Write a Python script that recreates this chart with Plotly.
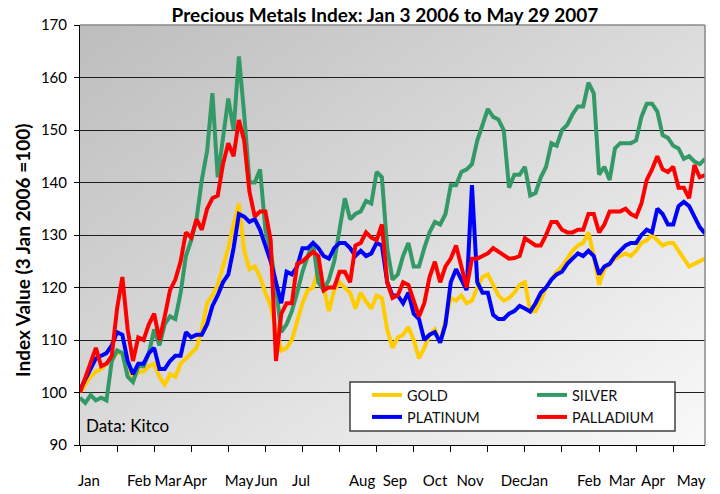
import base64
import plotly.graph_objects as go

# trading-day index (Jan 3 2006 = 0 ... May 29 2007 = 354), sampled every 3 days
day = list(range(0, 355, 3))

gold = [100, 101.5, 103, 104, 104.5, 105.5, 106.5, 107.5, 107.5, 105.5,
        102.5, 104, 104, 105, 105.5, 103, 101.5, 103.5, 103, 105.5,
        106.5, 107.5, 108.5, 112, 117, 118.5, 120.5, 124, 127.5, 132,
        136, 127, 123.5, 124, 122, 119, 116.5, 112, 108, 108.5,
        110, 113.5, 117, 119.5, 120, 123.5, 120, 115.5, 119.5, 121,
        120, 119, 116, 119, 117.3, 116, 118.5, 118, 112, 108.5,
        110.5, 111, 112.5, 110, 106.5, 108.5, 111, 112, 109.5, 114,
        118, 117.5, 118.5, 117, 117.5, 120, 122, 122.5, 120.5, 118.5,
        117.5, 118, 119, 120.5, 121, 115.5, 115.5, 117.5, 120, 121.5,
        123, 124, 125.5, 127, 128, 128.5, 130.5, 126, 120.5, 123.5,
        124.5, 125.5, 126, 126.5, 126, 127, 128.5, 129, 130, 129,
        128, 128.5, 128.5, 127, 125.5, 124, 124.5, 125, 125.5]

silver = [99, 98, 99.5, 98.5, 99, 98.5, 106, 108, 107.5, 103,
          102, 105, 105, 107.5, 112, 109, 113, 114.5, 114, 119,
          126, 129, 133, 140.5, 146, 157, 141, 149, 156, 150,
          164, 153, 140, 140, 142.5, 131, 127, 120, 111.5, 113,
          115.5, 119, 123, 126, 128.5, 121, 119.5, 121.5, 125, 131,
          137, 133, 134, 134.5, 136.5, 136, 142, 141, 127.5, 121.5,
          122.5, 126, 128.5, 124, 124, 127.5, 130.5, 132.5, 132, 134,
          139.5, 139.5, 142, 142.5, 143.5, 148, 151, 154, 152.5, 152,
          150, 139, 141.5, 141.5, 143, 137.5, 138, 141, 143, 147.5,
          147, 150, 151, 153, 154.5, 154.5, 159, 157, 141.5, 143,
          140.5, 146.5, 147.5, 147.5, 147.5, 148, 152.5, 155, 155, 153.5,
          149, 148.5, 147, 146.5, 144.5, 145, 144, 143.5, 144.5]

platinum = [100.5, 102.5, 104.5, 106.5, 107, 107.5, 109, 111.5, 111, 106,
            103.5, 105.5, 105.5, 107.5, 108.5, 104.5, 104.5, 106, 107, 107,
            111.5, 110.5, 111, 111, 113, 116.5, 118.5, 121, 122.5, 127.5,
            134, 133.5, 132.5, 133, 131, 128, 125, 121, 117, 123,
            122.5, 124, 127.5, 127.5, 128.5, 127.5, 126, 125.5, 127.5, 128.5,
            128.5, 127.5, 126, 127, 126, 126.5, 128.5, 128, 121, 118.5,
            118.5, 117, 119, 115, 114, 110, 111, 111.5, 109.5, 113,
            121, 123.5, 121.5, 119.5, 139.5, 121, 119, 119, 114.8, 114,
            114, 115, 115.5, 116.5, 116, 115.4, 117, 119, 120, 121.5,
            122.5, 123, 124.5, 125.5, 126.5, 126, 127, 126, 122.5, 124,
            124.5, 126, 127, 128, 128.5, 128.5, 130, 131, 130.5, 135,
            134, 132, 132, 135.5, 136.3, 135.5, 133.5, 131.5, 130.3]

palladium = [100, 103, 106, 108.5, 105, 105.5, 107, 116, 122, 112,
             106, 110.5, 110, 113, 115, 110, 114.5, 119.5, 121.5, 125,
             130.5, 129.5, 133, 131, 135, 137, 137.5, 143.5, 147.5, 145,
             151.9, 148, 138.2, 133.5, 134.5, 134.5, 129, 106, 115, 117,
             117, 124.5, 125, 126, 126.8, 126, 119.5, 120, 120, 123,
             123, 121, 128, 128.5, 130.5, 129.5, 129, 132, 121, 118,
             118.5, 121, 120.5, 117.5, 114.5, 117, 122, 124.9, 121, 124,
             125.5, 128, 124, 120, 125.5, 125.5, 126, 126.5, 127.5, 126.8,
             126, 125.5, 125.6, 126, 129.4, 128.8, 128, 128, 130, 132.5,
             132.5, 131, 130.5, 130.5, 131, 131, 134, 134, 130.5, 132,
             134.5, 134.5, 134.5, 135, 134, 133.5, 136, 140.5, 142.5, 145,
             142.5, 142, 143, 139, 139, 137, 143.3, 141, 141.4]

month_labels = ["Jan", "Feb", "Mar", "Apr", "May", "Jun", "Jul", "Aug", "Sep",
                "Oct", "Nov", "Dec", "Jan", "Feb", "Mar", "Apr", "May"]
month_label_pos = [5.1, 33.4, 49.8, 65.1, 90.1, 105.5, 125.2, 159.8, 178.4,
                   201.1, 220.9, 245.8, 258.9, 288.3, 307, 324.6, 346.1]
month_tick_pos = list(range(0, 355, 21))

series_names = ["GOLD", "SILVER", "PLATINUM", "PALLADIUM"]
series_colors = ["#FFCC00", "#339966", "#0000FF", "#FF0000"]
series_values = [gold, silver, platinum, palladium]
legend_ids = ["legend", "legend2", "legend3", "legend4"]

FONT = "Lato"

W, H = 720, 494
ML, MT, PW, PH = 80, 25, 625, 420


def px_x(p):
    return (p - ML) / PW


def px_y(p):
    return (MT + PH - p) / PH


fig = go.Figure()
for name, vals, col, lg in zip(series_names, series_values, series_colors, legend_ids):
    fig.add_trace(go.Scatter(x=day, y=vals, name=name, mode="lines", legend=lg,
                             line=dict(color=col, width=4), hoverinfo="skip"))

svg = ('<svg xmlns="http://www.w3.org/2000/svg" width="625" height="420" '
       'preserveAspectRatio="none"><defs><linearGradient id="g" x1="0" y1="0" x2="1" y2="1">'
       '<stop offset="0" stop-color="#bdbdbd"/><stop offset="1" stop-color="#f9f9f9"/>'
       '</linearGradient></defs><rect width="625" height="420" fill="url(#g)"/></svg>')
src = "data:image/svg+xml;base64," + base64.b64encode(svg.encode()).decode()
fig.add_layout_image(dict(source=src, xref="paper", yref="paper", x=0, y=1,
                          sizex=1, sizey=1, sizing="stretch", layer="below",
                          xanchor="left", yanchor="top"))

# top and right frame of plot area
fig.add_shape(type="line", xref="paper", yref="paper", x0=0, x1=1, y0=1, y1=1,
              line=dict(color="#888888", width=1.5), layer="above")
fig.add_shape(type="line", xref="paper", yref="paper", x0=1, x1=1, y0=0, y1=1,
              line=dict(color="#888888", width=1.5), layer="above")

# legend box
fig.add_shape(type="rect", xref="paper", yref="paper",
              x0=px_x(350), x1=px_x(675), y0=px_y(431), y1=px_y(382),
              fillcolor="white", line=dict(color="#404040", width=1.5), layer="above")

legend_pos = [(367, 395), (532, 395), (367, 417), (532, 417)]
legend_layout = {}
for lg, (lx, ly) in zip(legend_ids, legend_pos):
    legend_layout[lg] = dict(x=px_x(lx), y=px_y(ly), xanchor="left", yanchor="middle",
                             bgcolor="rgba(0,0,0,0)", borderwidth=0,
                             font=dict(family=FONT, size=14.5, color="#111111"),
                             itemwidth=30)

fig.add_annotation(text="Data: Kitco", xref="paper", yref="paper", x=px_x(84), y=px_y(425),
                   xanchor="left", yanchor="middle", showarrow=False,
                   font=dict(family=FONT, size=17, color="black"))

fig.add_annotation(text="<b>Index Value (3 Jan 2006 =100)</b>", xref="paper", yref="paper",
                   x=px_x(22), y=px_y(250), xanchor="center", yanchor="middle",
                   textangle=-90, showarrow=False,
                   font=dict(family=FONT, size=19, color="black"))

fig.update_xaxes(range=[0, 354], tickmode="array", tickvals=month_label_pos,
                 ticktext=month_labels, ticks="", showgrid=False, showline=True,
                 linecolor="black", linewidth=1, zeroline=False, tickangle=0,
                 automargin=False,
                 tickfont=dict(family=FONT, size=15, color="black"),
                 ticklabelstandoff=22,
                 minor=dict(tickmode="array", tickvals=month_tick_pos, ticks="outside",
                            ticklen=6, tickcolor="black", tickwidth=1, showgrid=False))
fig.update_yaxes(range=[90, 170], tick0=90, dtick=10, ticks="outside", ticklen=5,
                 tickcolor="black", showline=True, linecolor="black", linewidth=1,
                 showgrid=True, gridcolor="#1e1e1e", gridwidth=1, zeroline=False,
                 automargin=False,
                 tickfont=dict(family=FONT, size=15, color="black"),
                 ticklabelstandoff=4)

fig.update_layout(
    width=W, height=H, autosize=False,
    margin=dict(l=ML, r=W - ML - PW, t=MT, b=H - MT - PH),
    paper_bgcolor="white", plot_bgcolor="rgba(0,0,0,0)",
    title=dict(text="<b>Precious Metals Index: Jan 3 2006 to May 29 2007</b>",
               x=px_x(385), xref="paper", xanchor="center", y=1 - 15 / H, yanchor="middle",
               font=dict(family=FONT, size=19, color="black")),
    showlegend=True,
    **legend_layout,
)

# remove the default 8px page margin so the figure sits at the window's origin
fig.write_html("out.html", config={"displayModeBar": False},
               post_script="document.body.style.margin='0';")
